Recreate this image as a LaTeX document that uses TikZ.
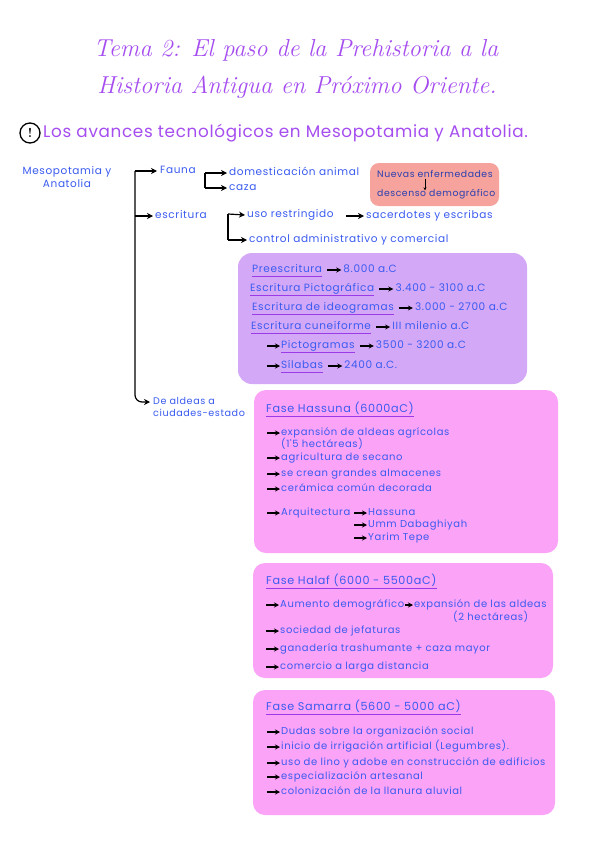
\documentclass[tikz,border=0pt]{standalone}
\usepackage{fontspec}
\newfontfamily\hand[LetterSpace=6]{Poppins}
\newfontfamily\handh[LetterSpace=4]{Poppins}
\usetikzlibrary{arrows.meta}
\definecolor{tblue}{HTML}{3A5BF0}
\definecolor{tpurple}{HTML}{A64DF0}
\definecolor{boxpurple}{HTML}{D3A8F7}
\definecolor{boxpink}{HTML}{FBA3F6}
\definecolor{boxsalmon}{HTML}{F5A39C}
\definecolor{ulpurple}{HTML}{9B3BE8}
\definecolor{navy}{HTML}{2B3FB0}
\tikzset{
  t/.style={anchor=west,inner sep=0pt,text=tblue,text height=7pt,text depth=2pt,font=\hand\fontsize{10.5}{12}\selectfont},
  tb/.style={t,font=\hand\fontsize{10}{12}\selectfont},
  tt/.style={t,font=\hand\fontsize{11.2}{12}\selectfont},
  arr/.style={-{Stealth[length=6pt,width=6pt]},line width=1.2pt,black},
  bul/.style={-{Stealth[length=5pt,width=5pt]},line width=1.1pt,black},
  ln/.style={line width=1.2pt,black},
  ul/.style={ulpurple,line width=1.4pt},
  pbox/.style={fill=boxpink,rounded corners=12pt},
}
\newcommand{\bu}[1]{\draw[bul] ([xshift=-14pt]#1.west) -- ([xshift=-1pt]#1.west);}
\newcommand{\und}[1]{\draw[ul] ([yshift=-1.5pt]#1.south west) -- ([yshift=-1.5pt]#1.south east);}
\begin{document}
\begin{tikzpicture}[x=1pt,y=-1pt]
\useasboundingbox[fill=white] (0,0) rectangle (601,848);
% title
\node[text=tpurple,font=\itshape\fontsize{24.5}{26}\selectfont,inner sep=0pt] (tit1) at (296,50) {Tema 2: El paso de la Prehistoria a la};
\node[text=tpurple,font=\itshape\fontsize{24.5}{26}\selectfont,inner sep=0pt] (tit2) at (297,87) {Historia Antigua en Próximo Oriente.};
% heading
\node[circle,draw=black,line width=1.3pt,inner sep=0pt,minimum size=20pt,font=\bfseries\fontsize{13}{13}\selectfont] (excl) at (30,133) {!};
\node[anchor=west,inner sep=0pt,text=tpurple,font=\handh\fontsize{16.8}{18}\selectfont] (head) at (43,133) {Los avances tecnológicos en Mesopotamia y Anatolia.};
% left tree
\node[t,anchor=center,align=center,font=\hand\fontsize{10.5}{13}\selectfont,text height=,text depth=] (meso) at (67,177) {Mesopotamia y\\Anatolia};
\coordinate (ttop) at (135,171);
\coordinate (aldin) at (150,402);
\node[t] (fauna) at (160,171) {Fauna};
\node[t] (escr) at (155,216) {escritura};
\node[t,align=left,font=\hand\fontsize{9.6}{12}\selectfont,text height=,text depth=] (ald) at (153,407) {De aldeas a\\ciudades-estado};
\draw[arr] (ttop) -- ([xshift=-3pt]fauna.west);
\draw[arr] (ttop |- escr.west) -- ([xshift=-2pt]escr.west);
\draw[arr,rounded corners=7pt] (ttop) -- (ttop |- aldin) -- (aldin);
% fauna branch
\node[t] (dom) at (229,173) {domesticación animal};
\node[t] (caza) at (229,188) {caza};
\coordinate (fb1) at (205,173);
\coordinate (fb2) at (205,188);
\draw[ln] (fb1) -- (fb2);
\draw[arr] (fb1) -- ([xshift=-2pt]dom.west);
\draw[arr] (fb2) -- ([xshift=-2pt]caza.west);
% salmon box
\fill[boxsalmon,rounded corners=9pt] (370,163) rectangle (499,206);
\node[t,text=navy,font=\hand\fontsize{9.3}{10}\selectfont] (nue) at (377,175) {Nuevas enfermedades};
\node[t,text=navy,font=\hand\fontsize{9.3}{10}\selectfont] (des) at (377,194) {descenso demográfico};
\draw[-{Stealth[length=3pt,width=3pt]},line width=0.8pt] ([xshift=48pt,yshift=1pt]nue.south west) -- ([xshift=48pt,yshift=-1pt]des.north west);
% escritura branch
\node[t] (uso) at (247,215) {uso restringido};
\node[t] (sac) at (366,216) {sacerdotes y escribas};
\node[t] (con) at (249,240) {control administrativo y comercial};
\coordinate (eb1) at (228,214);
\coordinate (eb2) at (228,240);
\draw[ln] (eb1) -- (eb2);
\draw[arr] (eb1) -- ([xshift=-2pt]uso.west);
\draw[arr] (eb2) -- ([xshift=-2pt]con.west);
\draw[arr] ([xshift=-20pt]sac.west) -- ([xshift=-2pt]sac.west);
% purple box
\fill[boxpurple,rounded corners=14pt] (238,253) rectangle (527,384);
\node[t] (pre) at (252,270) {Preescritura};
\node[t] (pic) at (250,289) {Escritura Pictográfica};
\node[t] (ide) at (252,308) {Escritura de ideogramas};
\node[t] (cun) at (251,327) {Escritura cuneiforme};
\node[t] (pg) at (281,346) {Pictogramas};
\node[t] (sil) at (281,366) {Sílabas};
\node[t] (pred) at ([xshift=21pt]pre.east) {8.000 a.C};
\node[t] (picd) at ([xshift=21pt]pic.east) {3.400 - 3100 a.C};
\node[t] (ided) at ([xshift=21pt]ide.east) {3.000 - 2700 a.C};
\node[t] (cund) at ([xshift=21pt]cun.east) {III milenio a.C};
\node[t] (pgd) at ([xshift=21pt]pg.east) {3500 - 3200 a.C};
\node[t] (sild) at ([xshift=21pt]sil.east) {2400 a.C.};
\foreach \a/\b in {pre/pred,pic/picd,ide/ided,cun/cund,pg/pgd,sil/sild}{
  \und{\a}
  \draw[bul] ([xshift=5pt]\a.east) -- ([xshift=-2pt]\b.west);
}
\bu{pg}
\bu{sil}
% Hassuna box
\fill[pbox] (254,390) rectangle (558,553);
\node[tt] (has) at (266,410) {Fase Hassuna (6000aC)};
\und{has}
\node[tb] (h1) at (281,433) {expansión de aldeas agrícolas};
\node[tb] (h1b) at (281,445) {(1'5 hectáreas)};
\node[tb] (h2) at (281,458) {agricultura de secano};
\node[tb] (h3) at (281,474) {se crean grandes almacenes};
\node[tb] (h4) at (281,489) {cerámica común decorada};
\node[tb] (h5) at (281,513) {Arquitectura};
\node[tb] (a1) at (368,513) {Hassuna};
\node[tb] (a2) at (368,525) {Umm Dabaghiyah};
\node[tb] (a3) at (368,538) {Yarim Tepe};
\foreach \n in {h1,h2,h3,h4,h5,a1,a2,a3}{\bu{\n}}
% Halaf box
\fill[pbox] (253,563) rectangle (553,678);
\node[tt] (hal) at (266,582) {Fase Halaf (6000 - 5500aC)};
\und{hal}
\node[tb] (f1) at (280,605) {Aumento demográfico};
\node[tb] (f1b) at (414,605) {expansión de las aldeas};
\node[tb] (f1c) at (453,618) {(2 hectáreas)};
\node[tb] (f2) at (280,631) {sociedad de jefaturas};
\node[tb] (f3) at (280,649) {ganadería trashumante + caza mayor};
\node[tb] (f4) at (280,667) {comercio a larga distancia};
\foreach \n in {f1,f2,f3,f4}{\bu{\n}}
\draw[bul] ([xshift=1pt]f1.east) -- ([xshift=-1pt]f1b.west);
% Samarra box
\fill[pbox] (253,690) rectangle (555,815);
\node[tt] (sam) at (266,708) {Fase Samarra (5600 - 5000 aC)};
\und{sam}
\node[tb] (s1) at (281,732) {Dudas sobre la organización social};
\node[tb] (s2) at (281,747) {inicio de irrigación artificial (Legumbres).};
\node[tb] (s3) at (281,763) {uso de lino y adobe en construcción de edificios};
\node[tb] (s4) at (281,777) {especialización artesanal};
\node[tb] (s5) at (281,792) {colonización de la llanura aluvial};
\foreach \n in {s1,s2,s3,s4,s5}{\bu{\n}}
\end{tikzpicture}
\end{document}
